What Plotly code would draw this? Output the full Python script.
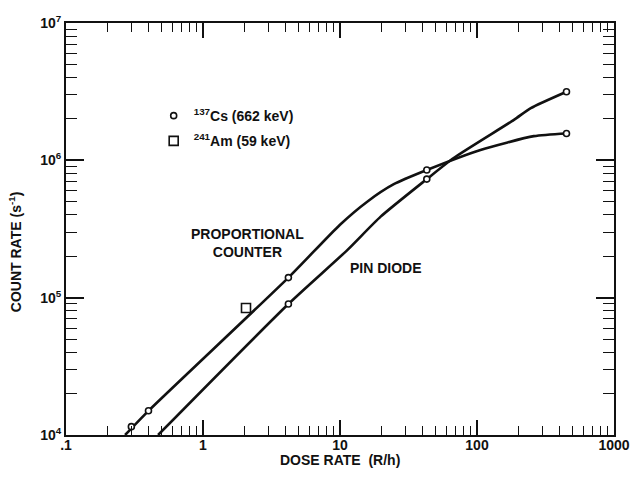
import plotly.graph_objects as go

# ---- data ----
prop_curve_x = [0.27, 0.4, 4.2, 10, 15.8, 24.7, 43, 106, 260, 450]
prop_curve_y = [1.0e4, 1.5e4, 1.4e5, 3.4e5, 5.0e5, 6.7e5, 8.5e5, 1.19e6, 1.5e6, 1.57e6]

pin_curve_x = [0.47, 4.2, 11.3, 19.8, 43, 67.6, 186, 247, 450]
pin_curve_y = [1.0e4, 9.0e4, 2.22e5, 3.89e5, 7.3e5, 1.04e6, 1.97e6, 2.4e6, 3.16e6]

cs_x = [0.3, 0.4, 4.2, 43, 450, 4.2, 43, 450]
cs_y = [1.15e4, 1.5e4, 1.4e5, 8.5e5, 1.57e6, 9.0e4, 7.3e5, 3.16e6]

am_x = [2.06]
am_y = [8.4e4]

x_tickvals = [0.1, 1, 10, 100, 1000]
x_ticktext = [".1", "1", "10", "100", "1000"]
y_tickvals = [1e4, 1e5, 1e6, 1e7]
y_ticktext = ["10<sup>4</sup>", "10<sup>5</sup>", "10<sup>6</sup>", "10<sup>7</sup>"]

def minors(decades):
    out = []
    for d in decades:
        for m in range(2, 10):
            out.append(m * d)
    return out

x_minor = minors([0.1, 1, 10, 100])
y_minor = minors([1e4, 1e5, 1e6])

FONT = "Liberation Sans"
BLACK = "#111111"

fig = go.Figure()
fig.add_trace(go.Scatter(x=prop_curve_x, y=prop_curve_y, mode="lines",
                         line=dict(color=BLACK, width=2.6, shape="spline", smoothing=0.6),
                         showlegend=False, hoverinfo="skip"))
fig.add_trace(go.Scatter(x=pin_curve_x, y=pin_curve_y, mode="lines",
                         line=dict(color=BLACK, width=2.6, shape="spline", smoothing=0.6),
                         showlegend=False, hoverinfo="skip"))
fig.add_trace(go.Scatter(x=cs_x, y=cs_y, mode="markers",
                         marker=dict(symbol="circle", size=6, color="white",
                                     line=dict(color=BLACK, width=1.6)),
                         name="<sup>137</sup>Cs (662 keV)", legendgroup="cs"))
fig.add_trace(go.Scatter(x=am_x, y=am_y, mode="markers",
                         marker=dict(symbol="square", size=9, color="white",
                                     line=dict(color=BLACK, width=1.6)),
                         name="<sup>241</sup>Am (59 keV)", legendgroup="am"))

fig.update_layout(
    width=633, height=477,
    margin=dict(l=66, r=19, t=23, b=42),
    paper_bgcolor="white", plot_bgcolor="white",
    font=dict(family=FONT, size=14, color=BLACK),
    legend=dict(x=0.16, y=0.813, xanchor="left", yanchor="top",
                bgcolor="rgba(0,0,0,0)", font=dict(size=14, family=FONT, weight="bold"),
                tracegroupgap=4),
    annotations=[
        dict(text="<b>PROPORTIONAL<br>COUNTER</b>", x=0.331, y=0.465, xref="paper", yref="paper",
             xanchor="center", yanchor="middle",
             showarrow=False, align="center", font=dict(size=14, family=FONT)),
        dict(text="<b>PIN DIODE</b>", x=0.584, y=0.405, xref="paper", yref="paper",
             xanchor="center", yanchor="middle",
             showarrow=False, font=dict(size=14, family=FONT)),
        dict(text="<b>DOSE RATE  (R/h)</b>", x=0.5, y=-0.06, xref="paper", yref="paper",
             xanchor="center", yanchor="middle", showarrow=False, font=dict(size=14, family=FONT)),
        dict(text="<b>COUNT RATE (s<sup>-1</sup>)</b>", x=-0.094, y=0.445, xref="paper", yref="paper",
             xanchor="center", yanchor="middle",
             textangle=-90, showarrow=False, font=dict(size=14, family=FONT)),
    ],
)

fig.update_xaxes(type="log", range=[-1, 3], showgrid=False, zeroline=False, automargin=False,
                 showline=True, linecolor=BLACK, linewidth=2, mirror="allticks",
                 ticks="inside", ticklen=15, tickwidth=1.6, tickcolor=BLACK,
                 tickmode="array", tickvals=x_tickvals, ticktext=x_ticktext,
                 ticklabelstandoff=-4,
                 tickfont=dict(size=14, family=FONT, weight="bold"),
                 minor=dict(tickmode="array", tickvals=x_minor, ticks="inside",
                            ticklen=9, tickwidth=1.4, tickcolor=BLACK, showgrid=False))
fig.update_yaxes(type="log", range=[4, 7], showgrid=False, zeroline=False, automargin=False,
                 showline=True, linecolor=BLACK, linewidth=2, mirror="allticks",
                 ticks="inside", ticklen=18, tickwidth=1.6, tickcolor=BLACK,
                 tickmode="array", tickvals=y_tickvals, ticktext=y_ticktext,
                 tickfont=dict(size=14, family=FONT, weight="bold"),
                 minor=dict(tickmode="array", tickvals=y_minor, ticks="inside",
                            ticklen=11, tickwidth=1.4, tickcolor=BLACK, showgrid=False))

fig.write_html("out.html", config={"displayModeBar": False},
               post_script="document.body.style.margin='0';document.body.style.padding='0';")
